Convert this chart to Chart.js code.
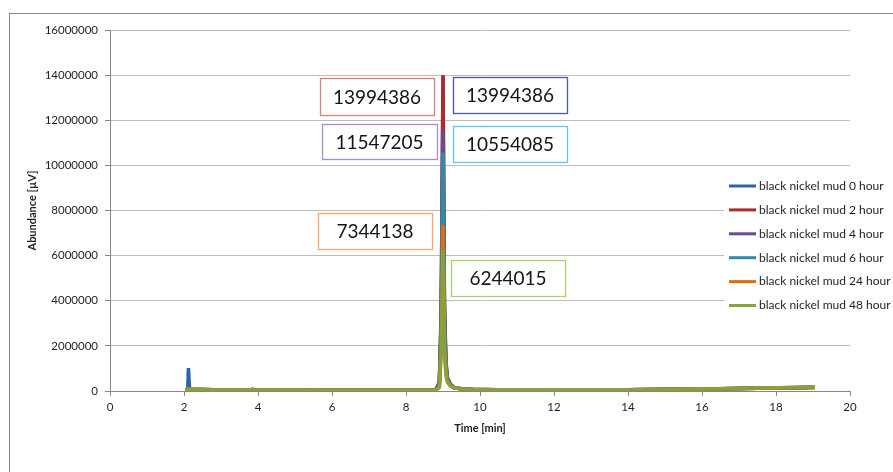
<!DOCTYPE html>
<html lang="en">
<head>
    <meta charset="UTF-8">
    <title>Black nickel mud chromatogram</title>
    <script src="https://cdn.jsdelivr.net/npm/chart.js@4.4.0/dist/chart.umd.min.js"></script>
    <style>
        html, body {
            margin: 0;
            padding: 0;
            background: #ffffff;
            overflow: hidden;
        }
        .chart-container {
            position: relative;
            width: 893px;
            height: 472px;
        }
    </style>
</head>
<body>

    <div class="chart-container">
        <canvas id="lineChart"></canvas>
    </div>

    <script>
        // Data
        const times = [2.05, 2.1, 2.12, 2.15, 2.4, 2.8, 3.8, 3.85, 3.9, 6, 8, 8.8, 8.9, 8.95, 9.0, 9.04, 9.08, 9.12, 9.2, 9.3, 9.5, 9.8, 10.5, 12, 14, 16, 17.5, 18.5, 19.05];

        const mud0h  = [20000, 50000, 1020000, 80000, 60000, 50000, 40000, 70000, 40000, 30000, 30000, 40000, 400000, 3500000, 13994386, 3800000, 1300000, 600000, 300000, 160000, 100000, 75000, 60000, 50000, 60000, 85000, 120000, 145000, 160000];
        const mud2h  = [20000, 60000, 90000, 80000, 70000, 50000, 40000, 70000, 40000, 30000, 30000, 35000, 250000, 3200000, 13994386, 3700000, 1250000, 580000, 290000, 155000, 100000, 75000, 60000, 50000, 60000, 85000, 120000, 145000, 160000];
        const mud4h  = [20000, 60000, 90000, 80000, 70000, 50000, 40000, 70000, 40000, 30000, 30000, 35000, 220000, 2800000, 11547205, 3200000, 1100000, 520000, 270000, 150000, 95000, 72000, 60000, 50000, 60000, 85000, 120000, 145000, 165000];
        const mud6h  = [20000, 60000, 90000, 80000, 70000, 50000, 40000, 70000, 40000, 30000, 30000, 35000, 200000, 2600000, 10554085, 2900000, 1000000, 480000, 250000, 145000, 92000, 70000, 60000, 50000, 60000, 85000, 120000, 150000, 165000];
        const mud24h = [20000, 70000, 100000, 90000, 80000, 55000, 40000, 70000, 40000, 30000, 30000, 35000, 180000, 1900000, 7344138, 2100000, 800000, 420000, 230000, 140000, 90000, 70000, 60000, 50000, 60000, 90000, 125000, 155000, 170000];
        const mud48h = [20000, 60000, 90000, 80000, 70000, 50000, 40000, 60000, 40000, 30000, 30000, 35000, 150000, 1600000, 6244015, 1700000, 700000, 400000, 220000, 140000, 90000, 70000, 60000, 50000, 60000, 90000, 130000, 160000, 175000];

        const seriesLabels = ['black nickel mud 0 hour', 'black nickel mud 2 hour', 'black nickel mud 4 hour',
                              'black nickel mud 6 hour', 'black nickel mud 24 hour', 'black nickel mud 48 hour'];
        const seriesValues = [mud0h, mud2h, mud4h, mud6h, mud24h, mud48h];
        const seriesColors = ['#2E62A8', '#AE2B2B', '#6A4A96', '#2E8CA8', '#E46C0A', '#86A33A'];

        // peak labels shown in boxes next to the spike
        const peakLabels = ['13994386', '13994386', '11547205', '10554085', '7344138', '6244015'];
        const boxColors = ['#4C5B96', '#D98080', '#A78FC7', '#5CC8F2', '#F7A869', '#A6D36B'];

        const yTicks = { min: 0, max: 16000000, step: 2000000 };
        const xTicks = { min: 0, max: 20, step: 2 };

        const FONT = 'Lato, "Open Sans", sans-serif';

        // box placement (pixels), one per peak label
        const boxPos = [
            { x: 453, y: 77, w: 114, h: 36 },
            { x: 320, y: 78, w: 114, h: 37 },
            { x: 322, y: 124, w: 115, h: 35 },
            { x: 453, y: 126, w: 114, h: 36 },
            { x: 318, y: 213, w: 114, h: 36 },
            { x: 451, y: 260, w: 114, h: 36 }
        ];

        var datasets = seriesLabels.map(function(label, i) {
            return {
                label: label,
                data: times.map(function(t, j) { return { x: t, y: seriesValues[i][j] }; }),
                borderColor: seriesColors[i],
                backgroundColor: seriesColors[i],
                borderWidth: 3.5,
                pointRadius: 0,
                tension: 0,
                fill: false,
                order: seriesLabels.length - 1 - i
            };
        });

        // frame, legend and peak boxes
        const decorPlugin = {
            id: 'decor',
            beforeDraw: function(chart) {
                var c = chart.ctx;
                c.save();
                c.fillStyle = '#ffffff';
                c.fillRect(0, 0, chart.width, chart.height);
                c.strokeStyle = '#868686';
                c.lineWidth = 1;
                c.strokeRect(9.5, 13.5, 900, 500);
                c.restore();
            },
            afterDraw: function(chart) {
                var c = chart.ctx;
                c.save();
                // legend
                c.fillStyle = '#ffffff';
                c.fillRect(724, 172, 169, 146);
                c.font = '12px ' + FONT;
                c.textBaseline = 'middle';
                c.textAlign = 'left';
                chart.data.datasets.forEach(function(ds, i) {
                    var y = 186 + i * 23.9;
                    c.strokeStyle = ds.borderColor;
                    c.lineWidth = 3;
                    c.beginPath();
                    c.moveTo(729, y);
                    c.lineTo(756, y);
                    c.stroke();
                    c.fillStyle = '#1f1f1f';
                    c.fillText(ds.label, 759, y);
                });
                // peak boxes
                c.font = '19px ' + FONT;
                c.textAlign = 'center';
                peakLabels.forEach(function(txt, i) {
                    var b = boxPos[i];
                    c.fillStyle = '#ffffff';
                    c.fillRect(b.x, b.y, b.w, b.h);
                    c.strokeStyle = boxColors[i];
                    c.lineWidth = 1.3;
                    c.strokeRect(b.x + 0.5, b.y + 0.5, b.w, b.h);
                    c.fillStyle = '#141414';
                    c.fillText(txt, b.x + b.w / 2, b.y + b.h / 2 + 1);
                });
                c.restore();
            }
        };

        var ctx1 = document.getElementById('lineChart').getContext('2d');
        var lineChart = new Chart(ctx1, {
            type: 'line',
            data: { datasets: datasets },
            plugins: [decorPlugin],
            options: {
                responsive: true,
                maintainAspectRatio: false,
                animation: false,
                layout: { padding: { top: 30, right: 43, left: 0, bottom: 0 } },
                plugins: {
                    legend: { display: false },
                    tooltip: { enabled: false }
                },
                scales: {
                    x: {
                        type: 'linear',
                        min: xTicks.min,
                        max: xTicks.max,
                        afterFit: function(scale) { scale.height = 81; },
                        ticks: {
                            stepSize: xTicks.step,
                            color: '#1f1f1f',
                            font: { family: FONT, size: 11.5 },
                            padding: 4,
                            maxRotation: 0
                        },
                        grid: { drawOnChartArea: false, drawTicks: true, tickLength: 5, color: '#868686' },
                        border: { color: '#868686' },
                        title: {
                            display: true,
                            text: 'Time [min]',
                            color: '#1f1f1f',
                            font: { family: FONT, size: 11, weight: 'bold' },
                            padding: { top: 0, bottom: 37 }
                        }
                    },
                    y: {
                        min: yTicks.min,
                        max: yTicks.max,
                        afterFit: function(scale) { scale.width = 110; },
                        ticks: {
                            stepSize: yTicks.step,
                            color: '#1f1f1f',
                            font: { family: FONT, size: 11.5 },
                            padding: 7,
                            callback: function(v) { return String(v); }
                        },
                        grid: {
                            color: '#BDBDBD',
                            tickColor: '#868686',
                            tickLength: 5
                        },
                        border: { color: '#868686' },
                        title: {
                            display: true,
                            text: 'Abundance [µV]',
                            color: '#1f1f1f',
                            font: { family: FONT, size: 11, weight: 'bold' },
                            padding: { top: 26, bottom: 0 }
                        }
                    }
                }
            }
        });
    </script>

</body>
</html>
